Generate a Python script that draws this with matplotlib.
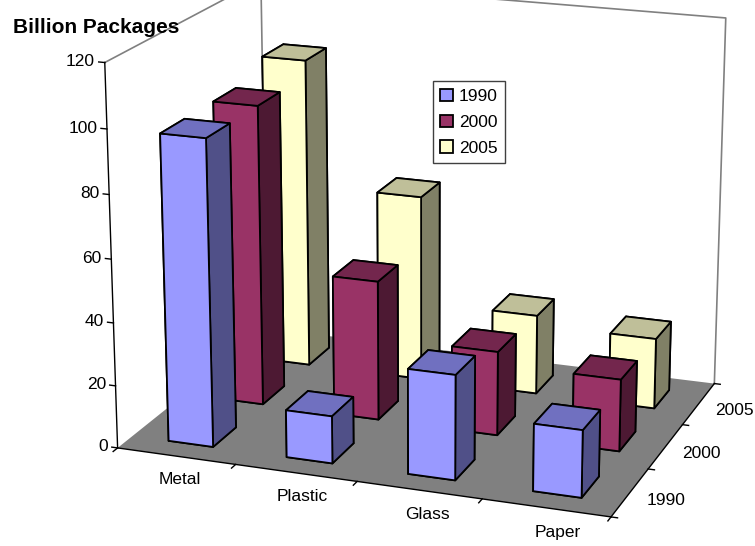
import matplotlib
matplotlib.use("Agg")
import matplotlib.pyplot as plt
from matplotlib.patches import Patch
import numpy as np

categories = ['Metal', 'Plastic', 'Glass', 'Paper']
years = ['1990', '2000', '2005']
values_1990 = [97, 15, 33, 21]
values_2000 = [97, 45, 27, 23]
values_2005 = [102, 61, 26, 23]
z_ticks = [0, 20, 40, 60, 80, 100, 120]

# face, top, side
colors_1990 = ['#9999FF', '#7070C0', '#505088']
colors_2000 = ['#993366', '#73264D', '#4D1933']
colors_2005 = ['#FFFFCC', '#BFBF99', '#808066']

plt.rcParams['font.family'] = ['Liberation Sans', 'DejaVu Sans']

fig = plt.figure(figsize=(7.55, 5.46), dpi=100)
# 3d axes gets squared up and clips its lines, so make it bigger than the figure
side = 1000
ax = fig.add_axes([(755 - side) / 2 / 755 + 0.0444, (546 - side) / 2 / 546 + 0.0523, side / 755, side / 546],
                  projection='3d', computed_zorder=False)
ax.set_proj_type('persp', focal_length=0.55)
ax.view_init(elev=17.5, azim=-70)
ax.set_box_aspect((3.65, 2.72, 2.82), zoom=0.725)
ax.set_xlim(0, 4, view_margin=0)
ax.set_ylim(0, 3, view_margin=0)
ax.set_zlim(0, 120, view_margin=0)
ax.set_axis_off()
ax.patch.set_alpha(0)

wall = '#808080'
# floor
ax.plot_surface(np.array([[0, 4], [0, 4]]), np.array([[0, 0], [3, 3]]), np.zeros((2, 2)),
                color='#808080', shade=False, zorder=1)
# walls
ax.plot([0, 0, 4, 4], [0, 3, 3, 3], [120, 120, 120, 0], color=wall, lw=1.2, zorder=2)
ax.plot([0, 0], [3, 3], [0, 120], color=wall, lw=1.2, zorder=2)

# axis lines and ticks
ax.plot([0, 0], [0, 0], [0, 120], color='black', lw=1.0, zorder=2)
ax.plot([0, 4], [0, 0], [0, 0], color='black', lw=1.0, zorder=2)
ax.plot([4, 4], [0, 3], [0, 0], color='black', lw=1.0, zorder=2)
for z in z_ticks:
    ax.plot([0, -0.05], [0, 0], [z, z], color='black', lw=1.0, zorder=2)
    ax.text(-0.08, 0, z, str(z), ha='right', va='center', fontsize=12.5, zorder=3)
for i in range(5):
    ax.plot([i, i], [0, -0.08], [0, 0], color='black', lw=1.0, zorder=2)
for i in range(4):
    ax.plot([4, 4.05], [i, i], [0, 0], color='black', lw=1.0, zorder=2)
for i, name in enumerate(categories):
    ax.text(i + 0.72, -0.42, 0, name, ha='center', va='center', fontsize=12.5, zorder=3)
for i, name in enumerate(years):
    ax.text(4.16, i + 0.4, 0, name, ha='left', va='center', fontsize=12.5, zorder=3)

width = 0.38
depth = 0.45
series = [(values_1990, colors_1990), (values_2000, colors_2000), (values_2005, colors_2005)]
order = 10
# back row first, left to right
for j in [2, 1, 0]:
    vals, cols = series[j]
    for i in range(4):
        # bottom, top, -y, +y, -x, +x
        face_cols = [cols[2], cols[1], cols[0], cols[0], cols[2], cols[2]]
        bar = ax.bar3d(i + 0.5 - width / 2, j + 0.5 - depth / 2, 0, width, depth, vals[i],
                       color=face_cols, edgecolor='black', linewidth=1.3, shade=False, zorder=order)
        order += 1

fig.text(0.128, 0.95, 'Billion Packages', ha='center', va='center', fontsize=15, fontweight='bold')

handles = [Patch(facecolor=s[1][0], edgecolor='black', linewidth=1.3, label=y) for s, y in zip(series, years)]
fig.legend(handles=handles, loc='upper left', bbox_to_anchor=(0.573, 0.852), fontsize=12.5,
           frameon=True, fancybox=False, edgecolor='#404040', framealpha=1,
           handlelength=0.7, handleheight=0.7, handletextpad=0.35, labelspacing=0.62, borderpad=0.45,
           borderaxespad=0)

fig.savefig('out.png', dpi=100)
